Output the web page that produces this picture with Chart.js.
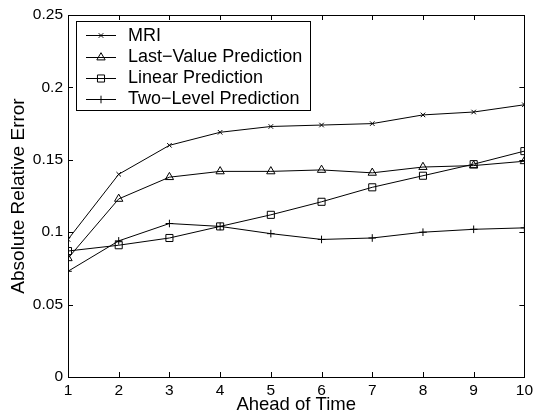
<!DOCTYPE html>
<html>
<head>
<meta charset="utf-8">
<script src="https://cdn.jsdelivr.net/npm/chart.js@4/dist/chart.umd.min.js"></script>
<style>
  html, body { margin: 0; padding: 0; background: #fff; }
  #wrap { width: 537px; height: 416px; }
</style>
</head>
<body>
<div id="wrap"><canvas id="c" width="537" height="416"></canvas></div>
<script>
const aheadOfTime = [1, 2, 3, 4, 5, 6, 7, 8, 9, 10];
const mri        = [0.095, 0.140, 0.160, 0.169, 0.173, 0.174, 0.175, 0.181, 0.183, 0.188];
const lastValue  = [0.082, 0.123, 0.138, 0.142, 0.142, 0.143, 0.141, 0.145, 0.146, 0.149];
const linearPred = [0.087, 0.091, 0.096, 0.104, 0.112, 0.121, 0.131, 0.139, 0.147, 0.156];
const twoLevel   = [0.073, 0.094, 0.106, 0.104, 0.099, 0.095, 0.096, 0.100, 0.102, 0.103];
const seriesNames = ['MRI', 'Last\u2212Value Prediction', 'Linear Prediction', 'Two\u2212Level Prediction'];
const xTickLabels = ['1', '2', '3', '4', '5', '6', '7', '8', '9', '10'];
const yTickValues = [0, 0.05, 0.1, 0.15, 0.2, 0.25];
const yTickLabels = ['0', '0.05', '0.1', '0.15', '0.2', '0.25'];
const xTitle = 'Ahead of Time';
const yTitle = 'Absolute Relative Error';

const FONT = "'Liberation Sans', Arial, Helvetica, sans-serif";

function pts(arr) { return aheadOfTime.map((x, i) => ({ x: x, y: arr[i] })); }

const styles = [
  { pointStyle: 'crossRot', radius: 3.2 },
  { pointStyle: 'triangle', radius: 4.8 },
  { pointStyle: 'rect', radius: 5 },
  { pointStyle: 'cross', radius: 3.8 }
];
const seriesData = [mri, lastValue, linearPred, twoLevel];

const datasets = seriesData.map((d, i) => ({
  label: seriesNames[i],
  data: pts(d),
  borderColor: '#000',
  borderWidth: 1,
  backgroundColor: 'rgba(0,0,0,0)',
  pointStyle: styles[i].pointStyle,
  pointRadius: styles[i].radius,
  pointBorderColor: '#000',
  pointBorderWidth: 1,
  pointBackgroundColor: 'rgba(0,0,0,0)',
  tension: 0,
  fill: false
}));

const frameAndLegend = {
  id: 'frameAndLegend',
  afterDatasetsDraw(chart) {
    const ctx = chart.ctx;
    const a = chart.chartArea;
    const xs = chart.scales.x, ys = chart.scales.y;
    ctx.save();
    ctx.strokeStyle = '#000';
    ctx.lineWidth = 1;
    ctx.strokeRect(Math.round(a.left) + 0.5, Math.round(a.top) + 0.5,
                   Math.round(a.right - a.left), Math.round(a.bottom - a.top));
    const tl = 5;
    ctx.beginPath();
    aheadOfTime.forEach(v => {
      const px = Math.round(xs.getPixelForValue(v)) + 0.5;
      ctx.moveTo(px, a.bottom); ctx.lineTo(px, a.bottom - tl);
      ctx.moveTo(px, a.top); ctx.lineTo(px, a.top + tl);
    });
    yTickValues.forEach(v => {
      const py = Math.round(ys.getPixelForValue(v)) + 0.5;
      ctx.moveTo(a.left, py); ctx.lineTo(a.left + tl, py);
      ctx.moveTo(a.right, py); ctx.lineTo(a.right - tl, py);
    });
    ctx.stroke();

    // legend
    const bx = 76.5, by = 21.5, bw = 234, bh = 89;
    ctx.fillStyle = '#fff';
    ctx.fillRect(bx, by, bw, bh);
    ctx.strokeRect(bx, by, bw, bh);
    const rowY = [35, 56.5, 77.5, 98.5];
    ctx.font = '18px ' + FONT;
    ctx.textBaseline = 'middle';
    ctx.textAlign = 'left';
    chart.data.datasets.forEach((ds, i) => {
      const y = Math.round(rowY[i]) + 0.5;
      ctx.beginPath();
      ctx.moveTo(86, y); ctx.lineTo(116, y);
      ctx.stroke();
      const opts = { pointStyle: ds.pointStyle, radius: ds.pointRadius, borderWidth: 1 };
      ctx.fillStyle = 'rgba(0,0,0,0)';
      if (Chart.helpers && Chart.helpers.drawPoint) {
        Chart.helpers.drawPoint(ctx, opts, 101, y);
      }
      ctx.fillStyle = '#000';
      ctx.fillText(ds.label, 128, rowY[i] + 1);
    });
    ctx.restore();
  }
};

new Chart(document.getElementById('c'), {
  type: 'line',
  data: { datasets: datasets },
  options: {
    responsive: false,
    animation: false,
    devicePixelRatio: 1,
    layout: { padding: { top: 15, right: 9, left: 0, bottom: 0 } },
    plugins: { legend: { display: false }, tooltip: { enabled: false } },
    scales: {
      x: {
        type: 'linear',
        min: 1, max: 10,
        border: { display: false },
        grid: { display: false, drawTicks: false },
        afterBuildTicks(scale) { scale.ticks = aheadOfTime.map(v => ({ value: v })); },
        afterFit(scale) { scale.height = 39; },
        ticks: {
          color: '#000', padding: 4, maxRotation: 0, autoSkip: false,
          font: { family: FONT, size: 15.5 },
          callback: (v, i) => xTickLabels[i]
        },
        title: {
          display: true, text: xTitle, color: '#000',
          font: { family: FONT, size: 18.5, lineHeight: 1.2 }, padding: { top: 0, bottom: 0 }
        }
      },
      y: {
        type: 'linear',
        min: 0, max: 0.25,
        border: { display: false },
        grid: { display: false, drawTicks: false },
        afterBuildTicks(scale) { scale.ticks = yTickValues.map(v => ({ value: v })); },
        afterFit(scale) { scale.width = 68; },
        ticks: {
          color: '#000', padding: 5, autoSkip: false,
          font: { family: FONT, size: 15.5 },
          callback: (v, i) => yTickLabels[i]
        },
        title: {
          display: true, text: yTitle, color: '#000',
          font: { family: FONT, size: 19, lineHeight: 1 }, padding: { top: 9.5, bottom: 0 }
        }
      }
    }
  },
  plugins: [frameAndLegend]
});
</script>
</body>
</html>
